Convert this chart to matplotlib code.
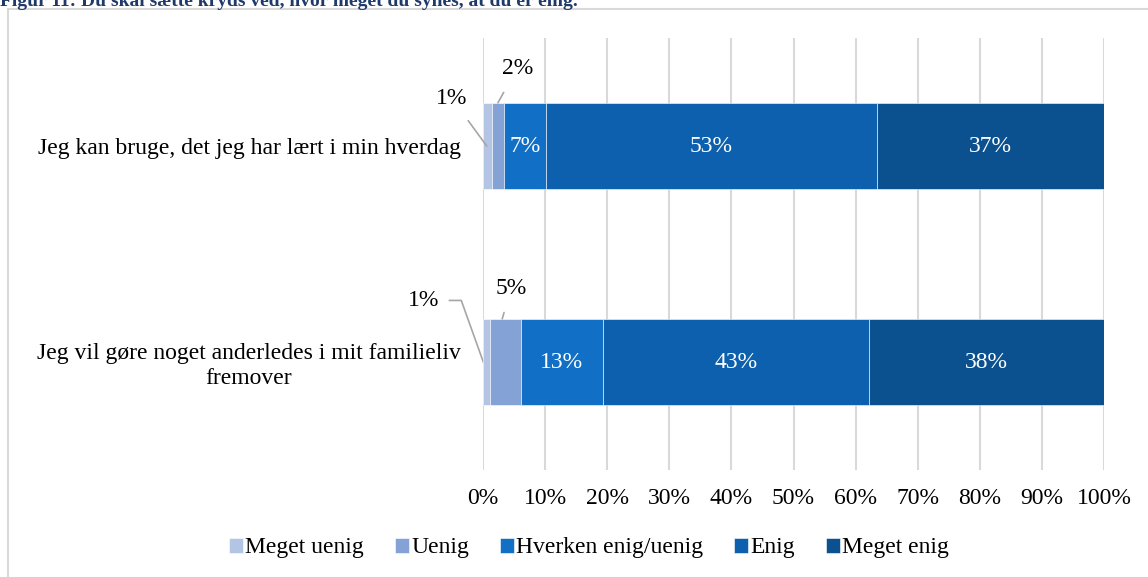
"""Stacked horizontal bar chart: Figur 11 agreement survey."""

import matplotlib

matplotlib.use("Agg")
import matplotlib.pyplot as plt
from matplotlib.patches import Rectangle

plt.rcParams["font.family"] = ["Liberation Serif", "DejaVu Serif"]

categories = [
    "Jeg kan bruge, det jeg har lært i min hverdag",
    "Jeg vil gøre noget anderledes i mit familieliv\nfremover",
]
series_names = ["Meget uenig", "Uenig", "Hverken enig/uenig", "Enig", "Meget enig"]
meget_uenig = [1.4, 1.1]
uenig = [2.0, 5.0]
hverken = [6.8, 13.2]
enig = [53.2, 42.9]
meget_enig = [36.6, 37.8]
colors = ["#b4c4e4", "#84a2d6", "#1170c6", "#0d60ad", "#0b5190"]

values = [meget_uenig, uenig, hverken, enig, meget_enig]
FS = 17

fig = plt.figure(figsize=(11.48, 5.77), dpi=100)
ax = fig.add_axes([483 / 1148, 1 - 470 / 577, 621 / 1148, 432 / 577])

ypos = list(range(len(categories)))
left = [0.0] * len(categories)
for name, vals, col in zip(series_names, values, colors):
    bars = ax.barh(ypos, vals, left=left, height=0.4, color=col, label=name,
                   edgecolor="#ffffff", linewidth=0.4, zorder=3)
    for i, (b, v) in enumerate(zip(bars, vals)):
        if v >= 6:
            ax.text(left[i] + v / 2, ypos[i], f"{v:.0f}%", color="white",
                    ha="center", va="center", fontsize=FS, zorder=4)
    left = [l + v for l, v in zip(left, vals)]

# small segments labelled outside with leader lines
lc = "#a6a6a6"
y0, y1 = ypos
ax.annotate(f"{meget_uenig[0]:.0f}%", xy=(meget_uenig[0] / 2 - 0.1, y0),
            xytext=(-5.0, y0 - 0.22), ha="center", va="center", fontsize=FS,
            arrowprops=dict(arrowstyle="-", color=lc, lw=1.2, shrinkA=8, shrinkB=0))
ax.annotate(f"{uenig[0]:.0f}%", xy=(meget_uenig[0] + uenig[0] / 2, y0 - 0.2),
            xytext=(5.5, y0 - 0.36), ha="center", va="center", fontsize=FS,
            arrowprops=dict(arrowstyle="-", color=lc, lw=1.2, shrinkA=9, shrinkB=0))
ax.plot([-5.4, -3.5, meget_uenig[1] / 2 - 0.5], [y1 - 0.285, y1 - 0.285, y1 + 0.0],
        color=lc, lw=1.2, clip_on=False, zorder=2)
ax.text(-9.5, y1 - 0.285, f"{meget_uenig[1]:.0f}%", ha="center", va="center", fontsize=FS)
ax.annotate(f"{uenig[1]:.0f}%", xy=(meget_uenig[1] + uenig[1] / 2 - 0.5, y1 - 0.2),
            xytext=(4.5, y1 - 0.34), ha="center", va="center", fontsize=FS,
            arrowprops=dict(arrowstyle="-", color=lc, lw=1.2, shrinkA=8, shrinkB=0))

ax.set_xlim(0, 100)
ax.set_ylim(1.5, -0.5)
ax.set_xticks(range(0, 101, 10))
ax.set_xticklabels([f"{t}%" for t in range(0, 101, 10)])
ax.set_yticks(ypos)
ax.set_yticklabels(categories, multialignment="center")
ax.tick_params(axis="both", length=0, labelsize=FS)
ax.tick_params(axis="x", pad=13)
ax.tick_params(axis="y", pad=16)
ax.grid(axis="x", color="#d9d9d9", linewidth=1.5, zorder=0)
for s in ax.spines.values():
    s.set_visible(False)

handles, labels = ax.get_legend_handles_labels()
fig.legend(handles, labels, loc="center", bbox_to_anchor=(589 / 1148, 1 - 548 / 577),
           ncol=5, frameon=False, fontsize=FS, handlelength=0.6, handleheight=0.6,
           handletextpad=0.1, columnspacing=1.3)

fig.patches.append(Rectangle((8 / 1148, -0.05), 1.1, 1 - 9 / 577 + 0.05,
                             transform=fig.transFigure, fill=False,
                             edgecolor="#d9d9d9", linewidth=1.5))
fig.text(0.0, 1 - 6 / 577, "Figur 11: Du skal sætte kryds ved, hvor meget du synes, at du er enig.",
         fontsize=14, fontweight="bold", color="#1f3a6a", va="baseline", ha="left")

fig.savefig("out.png", dpi=100)
